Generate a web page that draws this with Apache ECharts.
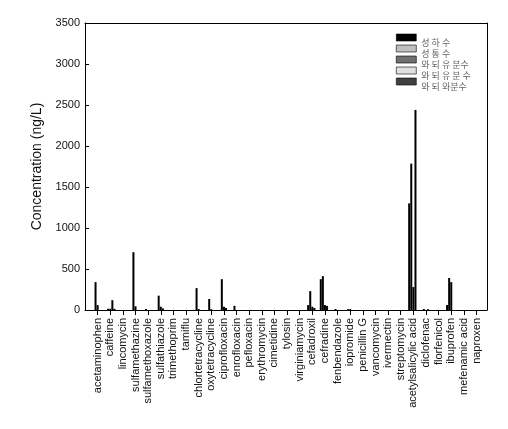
<!DOCTYPE html>
<html>
<head>
<meta charset="utf-8">
<script src="https://cdn.jsdelivr.net/npm/echarts@6/dist/echarts.min.js"></script>
<style>
html,body{margin:0;padding:0;background:#fff;}
#chart{width:508px;height:429px;}
</style>
</head>
<body>
<div id="chart"></div>
<script>
const categories = ['acetaminophen','caffeine','lincomycin','sulfamethazine','sulfamethoxazole','sulfathiazole','trimethoprim','tamiflu','chlortetracycline','oxytetracycline','ciprofloxacin','enrofloxacin','pefloxacin','erythromycin','cimetidine','tylosin','virginiamycin','cefadroxil','cefradine','fenbendazole','iopromide','penicillin G','vancomycin','ivermectin','streptomycin','acetylsalicylic acid','diclofenac','florfenicol','ibuprofen','mefenamic acid','naproxen'];
const seriesNames = ['성 하 수','성 통 수','와 되 유 분수','와 되 유 분 수','와 되 와분수'];
const legendColors = ['#000000','#c0c0c0','#707070','#e0e0e0','#404040'];
//               1    2    3    4    5    6    7  8   9   10   11   12  13 14 15 16 17  18   19   20  21  22 23 24 25   26    27 28   29  30 31
const s1 = [     0,   0,   0,   0,   0,   0,   0, 0,   0,   0,   0,   0, 0, 0, 0, 0, 0,  60, 376,   0,  0, 0, 0, 0, 0, 1300,   0, 0,  60, 0, 0];
const s2 = [   340,  15,   0, 705,  12, 175,   0, 0, 267, 134, 376,  50, 0, 0, 0, 0, 0, 230, 413,  12, 10, 0, 0, 0, 0, 1785,  12, 0, 390, 0, 0];
const s3 = [    60,  15,   0,  45,   0,  40,   0, 0,  12,  10,  40,   0, 0, 0, 0, 0, 0,  40,  60,   0, 10, 0, 0, 0, 0,  280,   0, 0, 340, 0, 0];
const s4 = [     0, 120,   0,   0,   0,  20,   0, 0,   0,   0,  25,   0, 0, 0, 0, 0, 0,  25,  50,   0,  0, 0, 0, 0, 0, 2440,  10, 0,   0, 0, 0];
const s5 = [     0,  15,   0,   0,   0,   0,   0, 0,   0,   0,   0,   0, 0, 0, 0, 0, 0,   0,   0,   0,  0, 0, 0, 0, 0,    0,   0, 0,   0, 0, 0];
const allSeries = [s1, s2, s3, s4, s5];
const yMin = 0, yMax = 3500, yStep = 500;

const tickPositions = categories.map((c, i) => i + 1);
const font = 'Liberation Sans, Arial, sans-serif';

const chart = echarts.init(document.getElementById('chart'), null, {renderer: 'canvas'});
chart.setOption({
  animation: false,
  backgroundColor: '#fff',
  grid: {left: 85, right: 21, top: 23, bottom: 119},
  legend: {
    orient: 'vertical',
    left: 396,
    top: 28,
    padding: 0,
    itemWidth: 20,
    itemHeight: 7,
    itemGap: -8,
    icon: 'rect',
    selectedMode: false,
    formatter: n => '{a|' + n + '}',
    textStyle: {
      color: '#666',
      fontSize: 9,
      fontFamily: 'Noto Sans CJK KR, sans-serif',
      rich: {a: {fontSize: 9, lineHeight: 10, color: '#666', padding: [10, 0, 0, 0], fontFamily: 'Noto Sans CJK KR, sans-serif'}}
    },
    data: seriesNames.map((n, i) => ({
      name: n,
      itemStyle: {color: legendColors[i], borderColor: '#000', borderWidth: 0.6}
    }))
  },
  xAxis: [{
    type: 'value',
    min: 0,
    max: 31.83,
    axisLine: {show: true, onZero: false, lineStyle: {color: '#000', width: 1}},
    axisTick: {show: true, length: 5, lineStyle: {color: '#000'}, customValues: tickPositions},
    axisLabel: {
      customValues: tickPositions,
      rotate: 90,
      margin: 8,
      fontSize: 11,
      color: '#111',
      fontFamily: font,
      formatter: v => categories[Math.round(v) - 1] || ''
    },
    splitLine: {show: false}
  }, {
    type: 'value', position: 'top', min: 0, max: 1,
    axisLine: {show: true, onZero: false, lineStyle: {color: '#000', width: 1}},
    axisTick: {show: false}, axisLabel: {show: false}, splitLine: {show: false}
  }],
  yAxis: [{
    type: 'value',
    min: yMin,
    max: yMax,
    interval: yStep,
    name: 'Concentration (ng/L)',
    nameLocation: 'middle',
    nameGap: 38,
    nameTextStyle: {fontSize: 14, color: '#111', fontFamily: font},
    axisLine: {show: true, onZero: false, lineStyle: {color: '#000', width: 1}},
    axisTick: {show: true, inside: true, length: 4, lineStyle: {color: '#000'}},
    axisLabel: {fontSize: 11, color: '#111', margin: 5, fontFamily: font, formatter: v => String(v)},
    splitLine: {show: false}
  }, {
    type: 'value', position: 'right', min: 0, max: 1,
    axisLine: {show: true, onZero: false, lineStyle: {color: '#000', width: 1}},
    axisTick: {show: false}, axisLabel: {show: false}, splitLine: {show: false}
  }],
  series: allSeries.map((arr, si) => ({
    name: seriesNames[si],
    type: 'bar',
    xAxisIndex: 0,
    yAxisIndex: 0,
    barWidth: 2,
    barGap: '5%',
    itemStyle: {color: '#000'},
    data: arr.map((v, i) => [i + 1, v])
  }))
});
</script>
</body>
</html>
